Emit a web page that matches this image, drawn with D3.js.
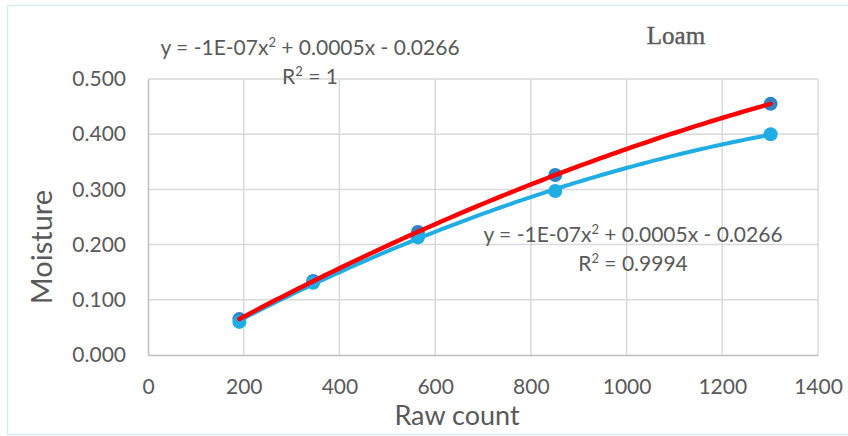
<!DOCTYPE html>
<html>
<head>
<meta charset="utf-8">
<script src="https://cdn.jsdelivr.net/npm/d3@7"></script>
<style>
  html, body { margin: 0; padding: 0; background: #fff; }
  svg { display: block; }
  text { font-family: Lato, "Open Sans", sans-serif; fill: #595959; }
</style>
</head>
<body>
<svg id="chart" width="848" height="436"></svg>
<script>
// Raw sensor counts and measured moisture for the loam samples
const rawCount = [191, 345, 564, 851, 1301];
const moistureA = [0.065, 0.134, 0.223, 0.326, 0.455];
const moistureB = [0.060, 0.131, 0.213, 0.297, 0.400];

const xTicks = [0, 200, 400, 600, 800, 1000, 1200, 1400];
const yTicks = [0, 0.1, 0.2, 0.3, 0.4, 0.5];

const chartTitle = "Loam";
const xTitle = "Raw count";
const yTitle = "Moisture";
const eqA = ["y = -1E-07x", "2", " + 0.0005x - 0.0266"];
const r2A = "1";
const eqB = ["y = -1E-07x", "2", " + 0.0005x - 0.0266"];
const r2B = "0.9994";

const W = 848, H = 436;
const margin = { left: 148, right: 30, top: 79, bottom: 81 };

const svg = d3.select("#chart");

// outer chart frame
svg.append("rect")
  .attr("x", 7.5).attr("y", 5.5)
  .attr("width", W + 10).attr("height", 429)
  .attr("fill", "#fff")
  .attr("stroke", "#d5ecf7").attr("stroke-width", 1.5);

const x = d3.scaleLinear().domain([0, 1400]).range([margin.left, W - margin.right]);
const y = d3.scaleLinear().domain([0, 0.5]).range([H - margin.bottom, margin.top]);

// gridlines
svg.append("g")
  .selectAll("line.v")
  .data(xTicks.slice(1))
  .join("line")
  .attr("x1", d => x(d)).attr("x2", d => x(d))
  .attr("y1", y(0)).attr("y2", y(0.5))
  .attr("stroke", "#d9d9d9").attr("stroke-width", 1.5);

svg.append("g")
  .selectAll("line.h")
  .data(yTicks.slice(1))
  .join("line")
  .attr("x1", x(0)).attr("x2", x(1400))
  .attr("y1", d => y(d)).attr("y2", d => y(d))
  .attr("stroke", "#d9d9d9").attr("stroke-width", 1.5);

// axes
const xAxis = svg.append("g")
  .attr("transform", `translate(0,${y(0)})`)
  .call(d3.axisBottom(x).tickValues(xTicks).tickSize(0).tickPadding(24).tickFormat(d3.format("d")));
const yAxis = svg.append("g")
  .attr("transform", `translate(${x(0)},0)`)
  .call(d3.axisLeft(y).tickValues(yTicks).tickSize(0).tickPadding(22).tickFormat(d3.format(".3f")));

[xAxis, yAxis].forEach(g => {
  g.select(".domain").attr("stroke", "#bfbfbf").attr("stroke-width", 1.5);
  g.selectAll("text").style("font-family", "Lato, sans-serif").style("font-size", "21px").attr("fill", "#595959");
});

// least-squares quadratic fit
function quadFit(xs, ys) {
  const n = xs.length;
  let s = [0, 0, 0, 0, 0], t = [0, 0, 0];
  for (let i = 0; i < n; i++) {
    let p = 1;
    for (let k = 0; k < 5; k++) { s[k] += p; p *= xs[i]; }
    t[0] += ys[i]; t[1] += ys[i] * xs[i]; t[2] += ys[i] * xs[i] * xs[i];
  }
  const M = [[s[0], s[1], s[2], t[0]], [s[1], s[2], s[3], t[1]], [s[2], s[3], s[4], t[2]]];
  for (let c = 0; c < 3; c++) {
    for (let r = c + 1; r < 3; r++) {
      const f = M[r][c] / M[c][c];
      for (let k = c; k < 4; k++) M[r][k] -= f * M[c][k];
    }
  }
  const b = [0, 0, 0];
  for (let r = 2; r >= 0; r--) {
    let v = M[r][3];
    for (let k = r + 1; k < 3; k++) v -= M[r][k] * b[k];
    b[r] = v / M[r][r];
  }
  return xv => b[0] + b[1] * xv + b[2] * xv * xv;
}

const fitA = quadFit(rawCount, moistureA);
const fitB = quadFit(rawCount, moistureB);
const xs = d3.range(0, 101).map(i => rawCount[0] + (rawCount[rawCount.length - 1] - rawCount[0]) * i / 100);
const line = d3.line().x(d => x(d[0])).y(d => y(d[1])).curve(d3.curveLinear);

// markers
svg.append("g").selectAll("circle")
  .data(rawCount.map((c, i) => [c, moistureA[i]]))
  .join("circle")
  .attr("cx", d => x(d[0])).attr("cy", d => y(d[1])).attr("r", 7)
  .attr("fill", "#2e84c6");
svg.append("g").selectAll("circle")
  .data(rawCount.map((c, i) => [c, moistureB[i]]))
  .join("circle")
  .attr("cx", d => x(d[0])).attr("cy", d => y(d[1])).attr("r", 7)
  .attr("fill", "#1fade4");

// trendlines
svg.append("path")
  .attr("d", line(xs.map(v => [v, fitB(v)])))
  .attr("fill", "none").attr("stroke", "#1fade4").attr("stroke-width", 4)
  .attr("stroke-linecap", "round");
svg.append("path")
  .attr("d", line(xs.map(v => [v, fitA(v)])))
  .attr("fill", "none").attr("stroke", "#ff0000").attr("stroke-width", 4.5)
  .attr("stroke-linecap", "round");

// equation labels
function equation(cx, by, parts, r2) {
  const t = svg.append("text")
    .attr("x", cx).attr("y", by)
    .attr("text-anchor", "middle")
    .style("font-size", "21px");
  t.append("tspan").text(parts[0]);
  t.append("tspan").attr("dy", -8).style("font-size", "13px").text(parts[1]);
  t.append("tspan").attr("dy", 8).text(parts[2]);
  const r = svg.append("text")
    .attr("x", cx).attr("y", by + 29)
    .attr("text-anchor", "middle")
    .style("font-size", "21px");
  r.append("tspan").text("R");
  r.append("tspan").attr("dy", -8).style("font-size", "13px").text("2");
  r.append("tspan").attr("dy", 8).text(" = " + r2);
}
equation(310, 55, eqA, r2A);
equation(633, 242, eqB, r2B);

// titles
svg.append("text")
  .attr("x", 676).attr("y", 44)
  .attr("text-anchor", "middle")
  .style("font-family", "'Liberation Serif', serif")
  .style("font-size", "25px")
  .style("stroke", "#5a5a5a")
  .style("stroke-width", 0.4)
  .style("fill", "#5a5a5a")
  .text(chartTitle);

svg.append("text")
  .attr("x", 457).attr("y", 425)
  .attr("text-anchor", "middle")
  .style("font-size", "27px")
  .text(xTitle);

svg.append("text")
  .attr("transform", `translate(52,247) rotate(-90)`)
  .attr("text-anchor", "middle")
  .style("font-size", "29px")
  .text(yTitle);
</script>
</body>
</html>
